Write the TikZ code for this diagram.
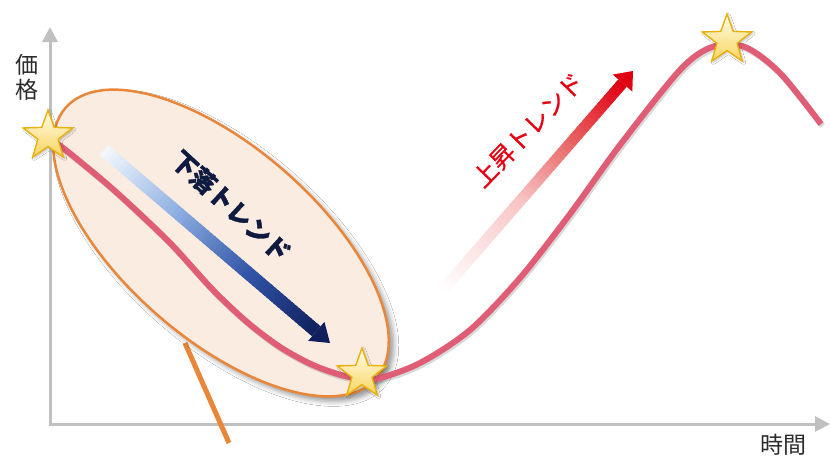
\documentclass[tikz,border=0pt]{standalone}
\usepackage{fontspec}
\newfontfamily\jp{Noto Sans CJK JP}
\newfontfamily\jpx[BoldFeatures={FakeBold=1.2}]{Noto Sans CJK JP}
\newfontfamily\jpm[FakeBold=0.8]{Noto Sans CJK JP}
\usetikzlibrary{arrows.meta,shapes.geometric,calc,shadows.blur}
\definecolor{axisgray}{HTML}{C0C0C0}
\definecolor{curvepink}{HTML}{DF5E75}
\definecolor{ellfill}{HTML}{FBECE2}
\definecolor{ellline}{HTML}{E8873A}
\definecolor{navytext}{HTML}{0E1A3F}
\definecolor{trendred}{HTML}{E60012}
\definecolor{labeltext}{HTML}{2B2B2B}
\definecolor{bA}{HTML}{F2F8FD}
\definecolor{bB}{HTML}{8FB0E2}
\definecolor{bC}{HTML}{3256A8}
\definecolor{bD}{HTML}{0F1F5C}
\definecolor{rA}{HTML}{FFFFFF}
\definecolor{rB}{HTML}{F8C4C4}
\definecolor{rC}{HTML}{E86262}
\definecolor{rD}{HTML}{E00012}
\definecolor{starA}{HTML}{FFFCE8}
\definecolor{starB}{HTML}{F8D560}
\definecolor{starline}{HTML}{E9B10A}
\begin{document}
\begin{tikzpicture}[x=1pt,y=-1pt,
  axis/.style={line width=3pt, axisgray, -{Triangle[width=15pt,length=15pt]}},
  stardeco/.style={star, star points=5, star point ratio=2.45, minimum size=52pt, inner sep=0pt,
    top color=starA, bottom color=starB, draw=starline, line width=1.4pt,
    blur shadow={shadow xshift=1.5pt, shadow yshift=-1.5pt, shadow opacity=25, shadow blur radius=2pt}},
  ellbox/.style={ellipse, inner sep=0pt, fill=ellfill, draw=ellline, line width=2.5pt,
    blur shadow={shadow xshift=5pt, shadow yshift=-5pt, shadow opacity=40, shadow blur radius=5pt}},
  leader/.style={ellline, line width=5pt},
  curveline/.style={line width=6pt, curvepink},
  curveshadow/.style={line width=6pt, black, opacity=0.15},
  axislabel/.style={text=labeltext, inner sep=0pt, font=\jp\fontsize{23}{25}\selectfont, align=center},
  downtext/.style={inner sep=0pt, text=navytext, font=\jpx\bfseries\fontsize{25}{25}\selectfont},
  uptext/.style={inner sep=0pt, text=trendred, font=\jpm\fontsize{24.5}{24.5}\selectfont}
]
\useasboundingbox (0,0) rectangle (830,456);
\fill[white] (0,0) rectangle (830,456);

% axes
\coordinate (O) at (50,425.5);
\coordinate (Ox) at (48.5,424);
\coordinate (ytop) at (50,27);
\coordinate (xend) at (830,424);
\draw[axis] (O) -- (ytop);
\draw[axis] (Ox) -- (xend);
\node[axislabel] (ylab) at (27,77) {価\\格};
\node[axislabel] (xlab) at (783,445) {時間};

% leader line and ellipse
\coordinate (lt) at (185,343);
\coordinate (lb) at (229,443);
\draw[leader] (lt) -- (lb);
\node[ellbox, minimum width=412pt, minimum height=192pt, rotate=-41] (ell) at (221,243) {};

% price curve
\def\curvepts{(48,137) (67,151) (107,184) (140,214) (173,246) (213,290) (247,322) (280,347) (313,365) (345,376) (375,379) (420,363) (470,330) (520,278) (570,214) (620,145) (680,70) (712,47) (745,47) (780,73) (821,124)}
\draw[curveshadow, xshift=1.5pt, yshift=-2pt] plot[smooth, tension=0.5] coordinates {\curvepts};
\draw[curveline] plot[smooth, tension=0.5] coordinates {\curvepts};

% blue (down) gradient arrow
\coordinate (bs) at (104,150);
\coordinate (bt) at (330,343);
\coordinate (be) at ($(bt)!18pt!(bs)$);
\foreach \i in {0,...,59}{
  \pgfmathsetmacro\ta{\i/60}
  \pgfmathsetmacro\tb{min(1,(\i+1.6)/60)}
  \pgfmathtruncatemacro\p{5*mod(\i,20)}
  \ifnum\i<20 \edef\col{bB!\p!bA}\else\ifnum\i<40 \edef\col{bC!\p!bB}\else\edef\col{bD!\p!bC}\fi\fi
  \draw[line width=13pt, color=\col] ($(bs)!\ta!(be)$) -- ($(bs)!\tb!(be)$);
}
\fill[bD] (bt) -- ($(be)!12.5pt!90:(bt)$) -- ($(be)!12.5pt!-90:(bt)$) -- cycle;
\node[downtext, rotate=-42.5] (downtxt) at (231,206) {下落トレンド};

% red (up) gradient arrow
\coordinate (rs) at (440,293);
\coordinate (rt) at (633,71);
\coordinate (re) at ($(rt)!16pt!(rs)$);
\foreach \i in {0,...,59}{
  \pgfmathsetmacro\ta{\i/60}
  \pgfmathsetmacro\tb{min(1,(\i+1.6)/60)}
  \ifnum\i<26 \pgfmathtruncatemacro\p{100*\i/26}\edef\col{rB!\p!rA}%
  \else\ifnum\i<43 \pgfmathtruncatemacro\p{100*(\i-26)/17}\edef\col{rC!\p!rB}%
  \else\pgfmathtruncatemacro\p{100*(\i-43)/16}\edef\col{rD!\p!rC}\fi\fi
  \draw[line width=11pt, color=\col] ($(rs)!\ta!(re)$) -- ($(rs)!\tb!(re)$);
}
\fill[rD] (rt) -- ($(re)!13pt!90:(rt)$) -- ($(re)!13pt!-90:(rt)$) -- cycle;
\node[uptext, rotate=46] (uptxt) at (528,130) {上昇トレンド};

% stars
\node[stardeco] (s1) at (48,136) {};
\node[stardeco] (s2) at (362,374) {};
\node[stardeco] (s3) at (727,40) {};
\end{tikzpicture}
\end{document}
